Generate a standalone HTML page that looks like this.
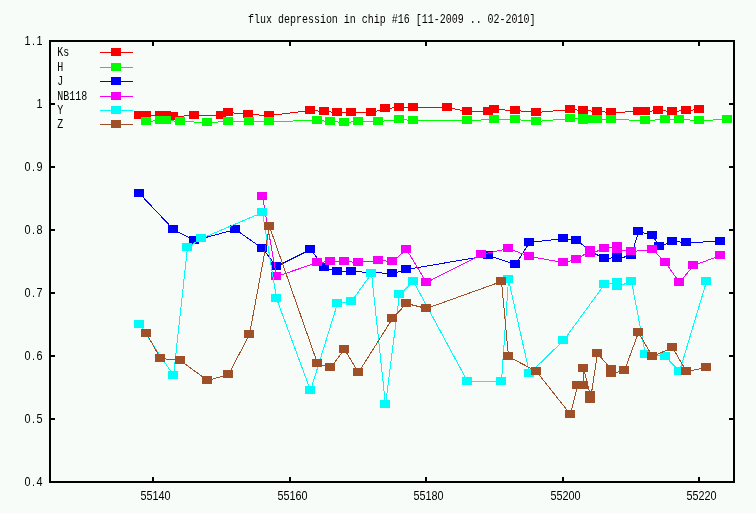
<!DOCTYPE html>
<html lang="en"><head><meta charset="utf-8"><title>flux depression in chip #16</title>
<style>html,body{margin:0;padding:0;background:#f8fcf8;overflow:hidden}svg{display:block}text{font-family:"Liberation Mono","DejaVu Sans Mono",monospace;font-size:13.5px;fill:#000}text.n{font-family:"Liberation Sans","DejaVu Sans",sans-serif;font-size:12.6px}</style>
</head><body>
<svg width="756" height="513" viewBox="0 0 756 513">
<rect x="0" y="0" width="756" height="513" fill="#f8fcf8"/>
<g shape-rendering="crispEdges" fill="#000">
<rect x="49" y="40" width="686" height="2"/>
<rect x="49" y="481" width="686" height="2"/>
<rect x="49" y="40" width="2" height="443"/>
<rect x="733" y="40" width="2" height="443"/>
<rect x="51" y="103" width="4" height="2"/>
<rect x="729" y="103" width="4" height="2"/>
<rect x="51" y="166" width="4" height="2"/>
<rect x="729" y="166" width="4" height="2"/>
<rect x="51" y="229" width="4" height="2"/>
<rect x="729" y="229" width="4" height="2"/>
<rect x="51" y="292" width="4" height="2"/>
<rect x="729" y="292" width="4" height="2"/>
<rect x="51" y="355" width="4" height="2"/>
<rect x="729" y="355" width="4" height="2"/>
<rect x="51" y="418" width="4" height="2"/>
<rect x="729" y="418" width="4" height="2"/>
<rect x="152" y="477" width="2" height="4"/>
<rect x="152" y="42" width="2" height="4"/>
<rect x="289" y="477" width="2" height="4"/>
<rect x="289" y="42" width="2" height="4"/>
<rect x="425" y="477" width="2" height="4"/>
<rect x="425" y="42" width="2" height="4"/>
<rect x="562" y="477" width="2" height="4"/>
<rect x="562" y="42" width="2" height="4"/>
<rect x="698" y="477" width="2" height="4"/>
<rect x="698" y="42" width="2" height="4"/>
</g>
<g>
<text transform="translate(248,23) scale(0.7407,1)">flux depression in chip #16 [11-2009 .. 02-2010]</text>
<text class="n" text-anchor="middle" transform="translate(24.5,45) scale(0.8600,1)" x="3.49 10.47 17.44">1.1</text>
<text class="n" text-anchor="middle" transform="translate(36.5,108) scale(0.8600,1)" x="3.49">1</text>
<text class="n" text-anchor="middle" transform="translate(24.5,171) scale(0.8600,1)" x="3.49 10.47 17.44">0.9</text>
<text class="n" text-anchor="middle" transform="translate(24.5,234) scale(0.8600,1)" x="3.49 10.47 17.44">0.8</text>
<text class="n" text-anchor="middle" transform="translate(24.5,297) scale(0.8600,1)" x="3.49 10.47 17.44">0.7</text>
<text class="n" text-anchor="middle" transform="translate(24.5,360) scale(0.8600,1)" x="3.49 10.47 17.44">0.6</text>
<text class="n" text-anchor="middle" transform="translate(24.5,423) scale(0.8600,1)" x="3.49 10.47 17.44">0.5</text>
<text class="n" text-anchor="middle" transform="translate(24.5,486) scale(0.8600,1)" x="3.49 10.47 17.44">0.4</text>
<text class="n" text-anchor="middle" transform="translate(140.5,500) scale(0.8600,1)" x="3.49 10.47 17.44 24.42 31.40">55140</text>
<text class="n" text-anchor="middle" transform="translate(277.5,500) scale(0.8600,1)" x="3.49 10.47 17.44 24.42 31.40">55160</text>
<text class="n" text-anchor="middle" transform="translate(413.5,500) scale(0.8600,1)" x="3.49 10.47 17.44 24.42 31.40">55180</text>
<text class="n" text-anchor="middle" transform="translate(550.5,500) scale(0.8600,1)" x="3.49 10.47 17.44 24.42 31.40">55200</text>
<text class="n" text-anchor="middle" transform="translate(686.5,500) scale(0.8600,1)" x="3.49 10.47 17.44 24.42 31.40">55220</text>
<text transform="translate(57.3,56) scale(0.7407,1)">Ks</text>
<text transform="translate(57.3,71) scale(0.7407,1)">H</text>
<text transform="translate(57.3,85) scale(0.7407,1)">J</text>
<text transform="translate(57.3,100) scale(0.7407,1)">NB118</text>
<text transform="translate(57.3,114) scale(0.7407,1)">Y</text>
<text transform="translate(57.3,128) scale(0.7407,1)">Z</text>
</g>
<g shape-rendering="crispEdges">
<g fill="#f80000" stroke="none">
<rect x="100" y="52" width="33" height="1"/>
<rect x="111" y="48" width="10" height="8"/>
<polyline points="139.5,115.5 146.5,115.5 160.5,115.5 166.5,115.5 173.5,116.5 194.5,115.5 221.5,115.5 228.5,112.5 248.5,114.5 269.5,115.5 310.5,110.5 324.5,111.5 337.5,112.5 351.5,112.5 371.5,112.5 385.5,108.5 399.5,107.5 413.5,107.5 447.5,107.5 467.5,111.5 488.5,111.5 494.5,109.5 515.5,110.5 536.5,112.5 570.5,109.5 583.5,110.5 597.5,111.5 611.5,112.5 638.5,111.5 645.5,111.5 658.5,110.5 672.5,111.5 686.5,110.5 699.5,109.5" fill="none" stroke="#f80000" stroke-width="1"/>
<rect x="134" y="111" width="10" height="8"/>
<rect x="141" y="111" width="10" height="8"/>
<rect x="155" y="111" width="10" height="8"/>
<rect x="161" y="111" width="10" height="8"/>
<rect x="168" y="112" width="10" height="8"/>
<rect x="189" y="111" width="10" height="8"/>
<rect x="216" y="111" width="10" height="8"/>
<rect x="223" y="108" width="10" height="8"/>
<rect x="243" y="110" width="10" height="8"/>
<rect x="264" y="111" width="10" height="8"/>
<rect x="305" y="106" width="10" height="8"/>
<rect x="319" y="107" width="10" height="8"/>
<rect x="332" y="108" width="10" height="8"/>
<rect x="346" y="108" width="10" height="8"/>
<rect x="366" y="108" width="10" height="8"/>
<rect x="380" y="104" width="10" height="8"/>
<rect x="394" y="103" width="10" height="8"/>
<rect x="408" y="103" width="10" height="8"/>
<rect x="442" y="103" width="10" height="8"/>
<rect x="462" y="107" width="10" height="8"/>
<rect x="483" y="107" width="10" height="8"/>
<rect x="489" y="105" width="10" height="8"/>
<rect x="510" y="106" width="10" height="8"/>
<rect x="531" y="108" width="10" height="8"/>
<rect x="565" y="105" width="10" height="8"/>
<rect x="578" y="106" width="10" height="8"/>
<rect x="592" y="107" width="10" height="8"/>
<rect x="606" y="108" width="10" height="8"/>
<rect x="633" y="107" width="10" height="8"/>
<rect x="640" y="107" width="10" height="8"/>
<rect x="653" y="106" width="10" height="8"/>
<rect x="667" y="107" width="10" height="8"/>
<rect x="681" y="106" width="10" height="8"/>
<rect x="694" y="105" width="10" height="8"/>
</g>
<g fill="#00fc00" stroke="none">
<rect x="100" y="67" width="33" height="1"/>
<rect x="111" y="63" width="10" height="8"/>
<polyline points="146.5,121.5 160.5,120.5 166.5,120.5 180.5,121.5 207.5,122.5 228.5,121.5 249.5,121.5 269.5,121.5 317.5,120.5 330.5,121.5 344.5,122.5 358.5,121.5 378.5,121.5 399.5,119.5 413.5,120.5 467.5,120.5 494.5,119.5 515.5,119.5 536.5,121.5 570.5,118.5 583.5,118.5 583.5,120.5 590.5,119.5 597.5,119.5 611.5,119.5 645.5,120.5 665.5,119.5 679.5,119.5 699.5,120.5 727.5,119.5" fill="none" stroke="#00fc00" stroke-width="1"/>
<rect x="141" y="117" width="10" height="8"/>
<rect x="155" y="116" width="10" height="8"/>
<rect x="161" y="116" width="10" height="8"/>
<rect x="175" y="117" width="10" height="8"/>
<rect x="202" y="118" width="10" height="8"/>
<rect x="223" y="117" width="10" height="8"/>
<rect x="244" y="117" width="10" height="8"/>
<rect x="264" y="117" width="10" height="8"/>
<rect x="312" y="116" width="10" height="8"/>
<rect x="325" y="117" width="10" height="8"/>
<rect x="339" y="118" width="10" height="8"/>
<rect x="353" y="117" width="10" height="8"/>
<rect x="373" y="117" width="10" height="8"/>
<rect x="394" y="115" width="10" height="8"/>
<rect x="408" y="116" width="10" height="8"/>
<rect x="462" y="116" width="10" height="8"/>
<rect x="489" y="115" width="10" height="8"/>
<rect x="510" y="115" width="10" height="8"/>
<rect x="531" y="117" width="10" height="8"/>
<rect x="565" y="114" width="10" height="8"/>
<rect x="578" y="114" width="10" height="8"/>
<rect x="578" y="116" width="10" height="8"/>
<rect x="585" y="115" width="10" height="8"/>
<rect x="592" y="115" width="10" height="8"/>
<rect x="606" y="115" width="10" height="8"/>
<rect x="640" y="116" width="10" height="8"/>
<rect x="660" y="115" width="10" height="8"/>
<rect x="674" y="115" width="10" height="8"/>
<rect x="694" y="116" width="10" height="8"/>
<rect x="722" y="115" width="10" height="8"/>
</g>
<g fill="#0000f8" stroke="none">
<rect x="100" y="81" width="33" height="1"/>
<rect x="111" y="77" width="10" height="8"/>
<polyline points="139.5,193.5 173.5,229.5 194.5,240.5 235.5,229.5 262.5,248.5 276.5,266.5 310.5,249.5 324.5,267.5 337.5,271.5 351.5,271.5 392.5,273.5 406.5,269.5 488.5,255.5 515.5,264.5 529.5,242.5 563.5,238.5 576.5,240.5 590.5,250.5 590.5,251.5 604.5,258.5 617.5,257.5 617.5,258.5 631.5,255.5 638.5,231.5 652.5,235.5 659.5,246.5 672.5,241.5 686.5,242.5 720.5,241.5" fill="none" stroke="#0000f8" stroke-width="1"/>
<rect x="134" y="189" width="10" height="8"/>
<rect x="168" y="225" width="10" height="8"/>
<rect x="189" y="236" width="10" height="8"/>
<rect x="230" y="225" width="10" height="8"/>
<rect x="257" y="244" width="10" height="8"/>
<rect x="271" y="262" width="10" height="8"/>
<rect x="305" y="245" width="10" height="8"/>
<rect x="319" y="263" width="10" height="8"/>
<rect x="332" y="267" width="10" height="8"/>
<rect x="346" y="267" width="10" height="8"/>
<rect x="387" y="269" width="10" height="8"/>
<rect x="401" y="265" width="10" height="8"/>
<rect x="483" y="251" width="10" height="8"/>
<rect x="510" y="260" width="10" height="8"/>
<rect x="524" y="238" width="10" height="8"/>
<rect x="558" y="234" width="10" height="8"/>
<rect x="571" y="236" width="10" height="8"/>
<rect x="585" y="246" width="10" height="8"/>
<rect x="585" y="247" width="10" height="8"/>
<rect x="599" y="254" width="10" height="8"/>
<rect x="612" y="253" width="10" height="8"/>
<rect x="612" y="254" width="10" height="8"/>
<rect x="626" y="251" width="10" height="8"/>
<rect x="633" y="227" width="10" height="8"/>
<rect x="647" y="231" width="10" height="8"/>
<rect x="654" y="242" width="10" height="8"/>
<rect x="667" y="237" width="10" height="8"/>
<rect x="681" y="238" width="10" height="8"/>
<rect x="715" y="237" width="10" height="8"/>
</g>
<g fill="#f800f8" stroke="none">
<rect x="100" y="96" width="33" height="1"/>
<rect x="111" y="92" width="10" height="8"/>
<polyline points="262.5,196.5 276.5,276.5 317.5,262.5 330.5,261.5 344.5,261.5 358.5,262.5 378.5,260.5 392.5,261.5 406.5,249.5 426.5,282.5 481.5,254.5 508.5,248.5 529.5,256.5 563.5,262.5 576.5,259.5 590.5,250.5 590.5,253.5 604.5,248.5 617.5,246.5 617.5,249.5 631.5,251.5 652.5,249.5 665.5,262.5 679.5,282.5 693.5,265.5 720.5,255.5" fill="none" stroke="#f800f8" stroke-width="1"/>
<rect x="257" y="192" width="10" height="8"/>
<rect x="271" y="272" width="10" height="8"/>
<rect x="312" y="258" width="10" height="8"/>
<rect x="325" y="257" width="10" height="8"/>
<rect x="339" y="257" width="10" height="8"/>
<rect x="353" y="258" width="10" height="8"/>
<rect x="373" y="256" width="10" height="8"/>
<rect x="387" y="257" width="10" height="8"/>
<rect x="401" y="245" width="10" height="8"/>
<rect x="421" y="278" width="10" height="8"/>
<rect x="476" y="250" width="10" height="8"/>
<rect x="503" y="244" width="10" height="8"/>
<rect x="524" y="252" width="10" height="8"/>
<rect x="558" y="258" width="10" height="8"/>
<rect x="571" y="255" width="10" height="8"/>
<rect x="585" y="246" width="10" height="8"/>
<rect x="585" y="249" width="10" height="8"/>
<rect x="599" y="244" width="10" height="8"/>
<rect x="612" y="242" width="10" height="8"/>
<rect x="612" y="245" width="10" height="8"/>
<rect x="626" y="247" width="10" height="8"/>
<rect x="647" y="245" width="10" height="8"/>
<rect x="660" y="258" width="10" height="8"/>
<rect x="674" y="278" width="10" height="8"/>
<rect x="688" y="261" width="10" height="8"/>
<rect x="715" y="251" width="10" height="8"/>
</g>
<g fill="#00fcf8" stroke="none">
<rect x="100" y="110" width="33" height="1"/>
<rect x="111" y="106" width="10" height="8"/>
<polyline points="139.5,324.5 173.5,375.5 187.5,247.5 201.5,238.5 262.5,212.5 276.5,298.5 310.5,390.5 337.5,303.5 351.5,301.5 371.5,273.5 385.5,404.5 399.5,294.5 413.5,281.5 467.5,381.5 501.5,381.5 508.5,279.5 529.5,373.5 563.5,340.5 604.5,284.5 617.5,282.5 617.5,286.5 631.5,281.5 645.5,354.5 665.5,356.5 679.5,371.5 706.5,281.5" fill="none" stroke="#00fcf8" stroke-width="1"/>
<rect x="134" y="320" width="10" height="8"/>
<rect x="168" y="371" width="10" height="8"/>
<rect x="182" y="243" width="10" height="8"/>
<rect x="196" y="234" width="10" height="8"/>
<rect x="257" y="208" width="10" height="8"/>
<rect x="271" y="294" width="10" height="8"/>
<rect x="305" y="386" width="10" height="8"/>
<rect x="332" y="299" width="10" height="8"/>
<rect x="346" y="297" width="10" height="8"/>
<rect x="366" y="269" width="10" height="8"/>
<rect x="380" y="400" width="10" height="8"/>
<rect x="394" y="290" width="10" height="8"/>
<rect x="408" y="277" width="10" height="8"/>
<rect x="462" y="377" width="10" height="8"/>
<rect x="496" y="377" width="10" height="8"/>
<rect x="503" y="275" width="10" height="8"/>
<rect x="524" y="369" width="10" height="8"/>
<rect x="558" y="336" width="10" height="8"/>
<rect x="599" y="280" width="10" height="8"/>
<rect x="612" y="278" width="10" height="8"/>
<rect x="612" y="282" width="10" height="8"/>
<rect x="626" y="277" width="10" height="8"/>
<rect x="640" y="350" width="10" height="8"/>
<rect x="660" y="352" width="10" height="8"/>
<rect x="674" y="367" width="10" height="8"/>
<rect x="701" y="277" width="10" height="8"/>
</g>
<g fill="#a05028" stroke="none">
<rect x="100" y="124" width="33" height="1"/>
<rect x="111" y="120" width="10" height="8"/>
<polyline points="146.5,333.5 160.5,358.5 180.5,360.5 207.5,380.5 228.5,374.5 249.5,334.5 269.5,226.5 317.5,363.5 330.5,367.5 344.5,349.5 358.5,372.5 392.5,318.5 406.5,303.5 426.5,308.5 501.5,281.5 508.5,356.5 536.5,371.5 570.5,414.5 577.5,385.5 583.5,385.5 583.5,368.5 590.5,395.5 590.5,399.5 597.5,353.5 611.5,369.5 611.5,373.5 624.5,370.5 638.5,332.5 652.5,356.5 672.5,347.5 686.5,371.5 706.5,367.5" fill="none" stroke="#a05028" stroke-width="1"/>
<rect x="141" y="329" width="10" height="8"/>
<rect x="155" y="354" width="10" height="8"/>
<rect x="175" y="356" width="10" height="8"/>
<rect x="202" y="376" width="10" height="8"/>
<rect x="223" y="370" width="10" height="8"/>
<rect x="244" y="330" width="10" height="8"/>
<rect x="264" y="222" width="10" height="8"/>
<rect x="312" y="359" width="10" height="8"/>
<rect x="325" y="363" width="10" height="8"/>
<rect x="339" y="345" width="10" height="8"/>
<rect x="353" y="368" width="10" height="8"/>
<rect x="387" y="314" width="10" height="8"/>
<rect x="401" y="299" width="10" height="8"/>
<rect x="421" y="304" width="10" height="8"/>
<rect x="496" y="277" width="10" height="8"/>
<rect x="503" y="352" width="10" height="8"/>
<rect x="531" y="367" width="10" height="8"/>
<rect x="565" y="410" width="10" height="8"/>
<rect x="572" y="381" width="10" height="8"/>
<rect x="578" y="381" width="10" height="8"/>
<rect x="578" y="364" width="10" height="8"/>
<rect x="585" y="391" width="10" height="8"/>
<rect x="585" y="395" width="10" height="8"/>
<rect x="592" y="349" width="10" height="8"/>
<rect x="606" y="365" width="10" height="8"/>
<rect x="606" y="369" width="10" height="8"/>
<rect x="619" y="366" width="10" height="8"/>
<rect x="633" y="328" width="10" height="8"/>
<rect x="647" y="352" width="10" height="8"/>
<rect x="667" y="343" width="10" height="8"/>
<rect x="681" y="367" width="10" height="8"/>
<rect x="701" y="363" width="10" height="8"/>
</g>
</g>
</svg>
</body></html>
